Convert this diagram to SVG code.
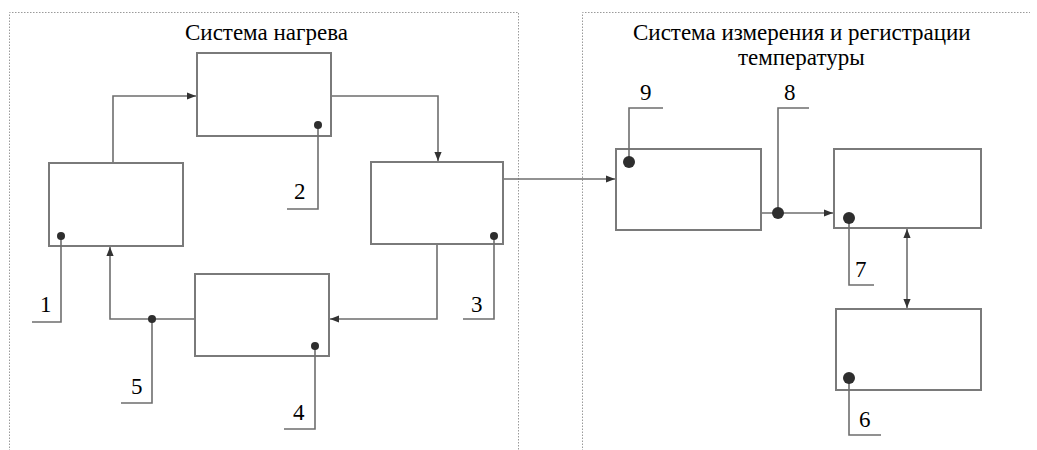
<svg xmlns="http://www.w3.org/2000/svg" width="1037" height="450" viewBox="0 0 1037 450">
<defs>
<marker id="ah" viewBox="0 0 10 10" refX="10" refY="5" markerWidth="9" markerHeight="9" markerUnits="userSpaceOnUse" orient="auto-start-reverse">
<path d="M0,1 L10,5 L0,9 Z" fill="#333"/>
</marker>
</defs>
<rect width="1037" height="450" fill="#fff"/>
<g id="frames" fill="none" stroke="#9a9a9a" stroke-width="1" stroke-dasharray="1.5 1.5">
<path d="M9.5,451 V12.5 H518.5 V451"/>
<path d="M582.5,451 V12.5 H1030"/>
</g>
<g id="titles">
<text x="185" y="40" font-size="23" font-family="Liberation Serif">Система нагрева</text>
<text x="633" y="40" font-size="23" font-family="Liberation Serif">Система измерения и регистрации</text>
<text x="738" y="65" font-size="23" font-family="Liberation Serif">температуры</text>
</g>
<g id="connectors" fill="none" stroke="#6e6e6e" stroke-width="1.6">
<path d="M113,163 V96 H196" marker-end="url(#ah)"/>
<path d="M331,96 H438 V161" marker-end="url(#ah)"/>
<path d="M437,244 V319 H330" marker-end="url(#ah)"/>
<path d="M195,319 H110 V247" marker-end="url(#ah)"/>
<path d="M503,179 H615" marker-end="url(#ah)"/>
<path d="M761,213 H833" marker-end="url(#ah)"/>
<path d="M907,229 V308" marker-start="url(#ah)" marker-end="url(#ah)"/>
</g>
<g fill="#fff" stroke="#7a7a7a" stroke-width="2">
<g id="node-a"><rect x="197" y="53" width="134" height="83"/></g>
<g id="node-b"><rect x="49" y="163" width="134" height="83"/></g>
<g id="node-c"><rect x="371" y="162" width="132" height="82"/></g>
<g id="node-d"><rect x="195" y="274" width="134" height="82"/></g>
<g id="node-e"><rect x="616" y="149" width="145" height="81"/></g>
<g id="node-f"><rect x="834" y="149" width="147" height="79"/></g>
<g id="node-g"><rect x="836" y="309" width="145" height="81"/></g>
</g>
<g id="leaders" fill="none" stroke="#6e6e6e" stroke-width="1.6">
<path d="M318,125 V209 H287"/>
<path d="M61,236 V322 H32"/>
<path d="M494,236 V319 H463"/>
<path d="M152,319 V403 H121"/>
<path d="M315,346 V429 H284"/>
<path d="M629,162 V108 H663"/>
<path d="M778,213 V108 H809"/>
<path d="M849,218 V285 H874"/>
<path d="M849,378 V435 H881"/>
</g>
<g id="dots" fill="#2e2e2e">
<circle cx="318" cy="125" r="4"/>
<circle cx="61" cy="236" r="4"/>
<circle cx="494" cy="236" r="4"/>
<circle cx="152" cy="319" r="4"/>
<circle cx="315" cy="346" r="4"/>
<circle cx="629" cy="162" r="6"/>
<circle cx="778" cy="213" r="6"/>
<circle cx="849" cy="218" r="6"/>
<circle cx="849" cy="378" r="6"/>
</g>
<g id="labels">
<text x="294" y="199" font-size="23" font-family="Liberation Serif">2</text>
<text x="40" y="312" font-size="23" font-family="Liberation Serif">1</text>
<text x="471" y="312" font-size="23" font-family="Liberation Serif">3</text>
<text x="131" y="394" font-size="23" font-family="Liberation Serif">5</text>
<text x="293" y="420" font-size="23" font-family="Liberation Serif">4</text>
<text x="640" y="100" font-size="23" font-family="Liberation Serif">9</text>
<text x="784" y="100" font-size="23" font-family="Liberation Serif">8</text>
<text x="855" y="277" font-size="23" font-family="Liberation Serif">7</text>
<text x="859" y="427" font-size="23" font-family="Liberation Serif">6</text>
</g>
</svg>
